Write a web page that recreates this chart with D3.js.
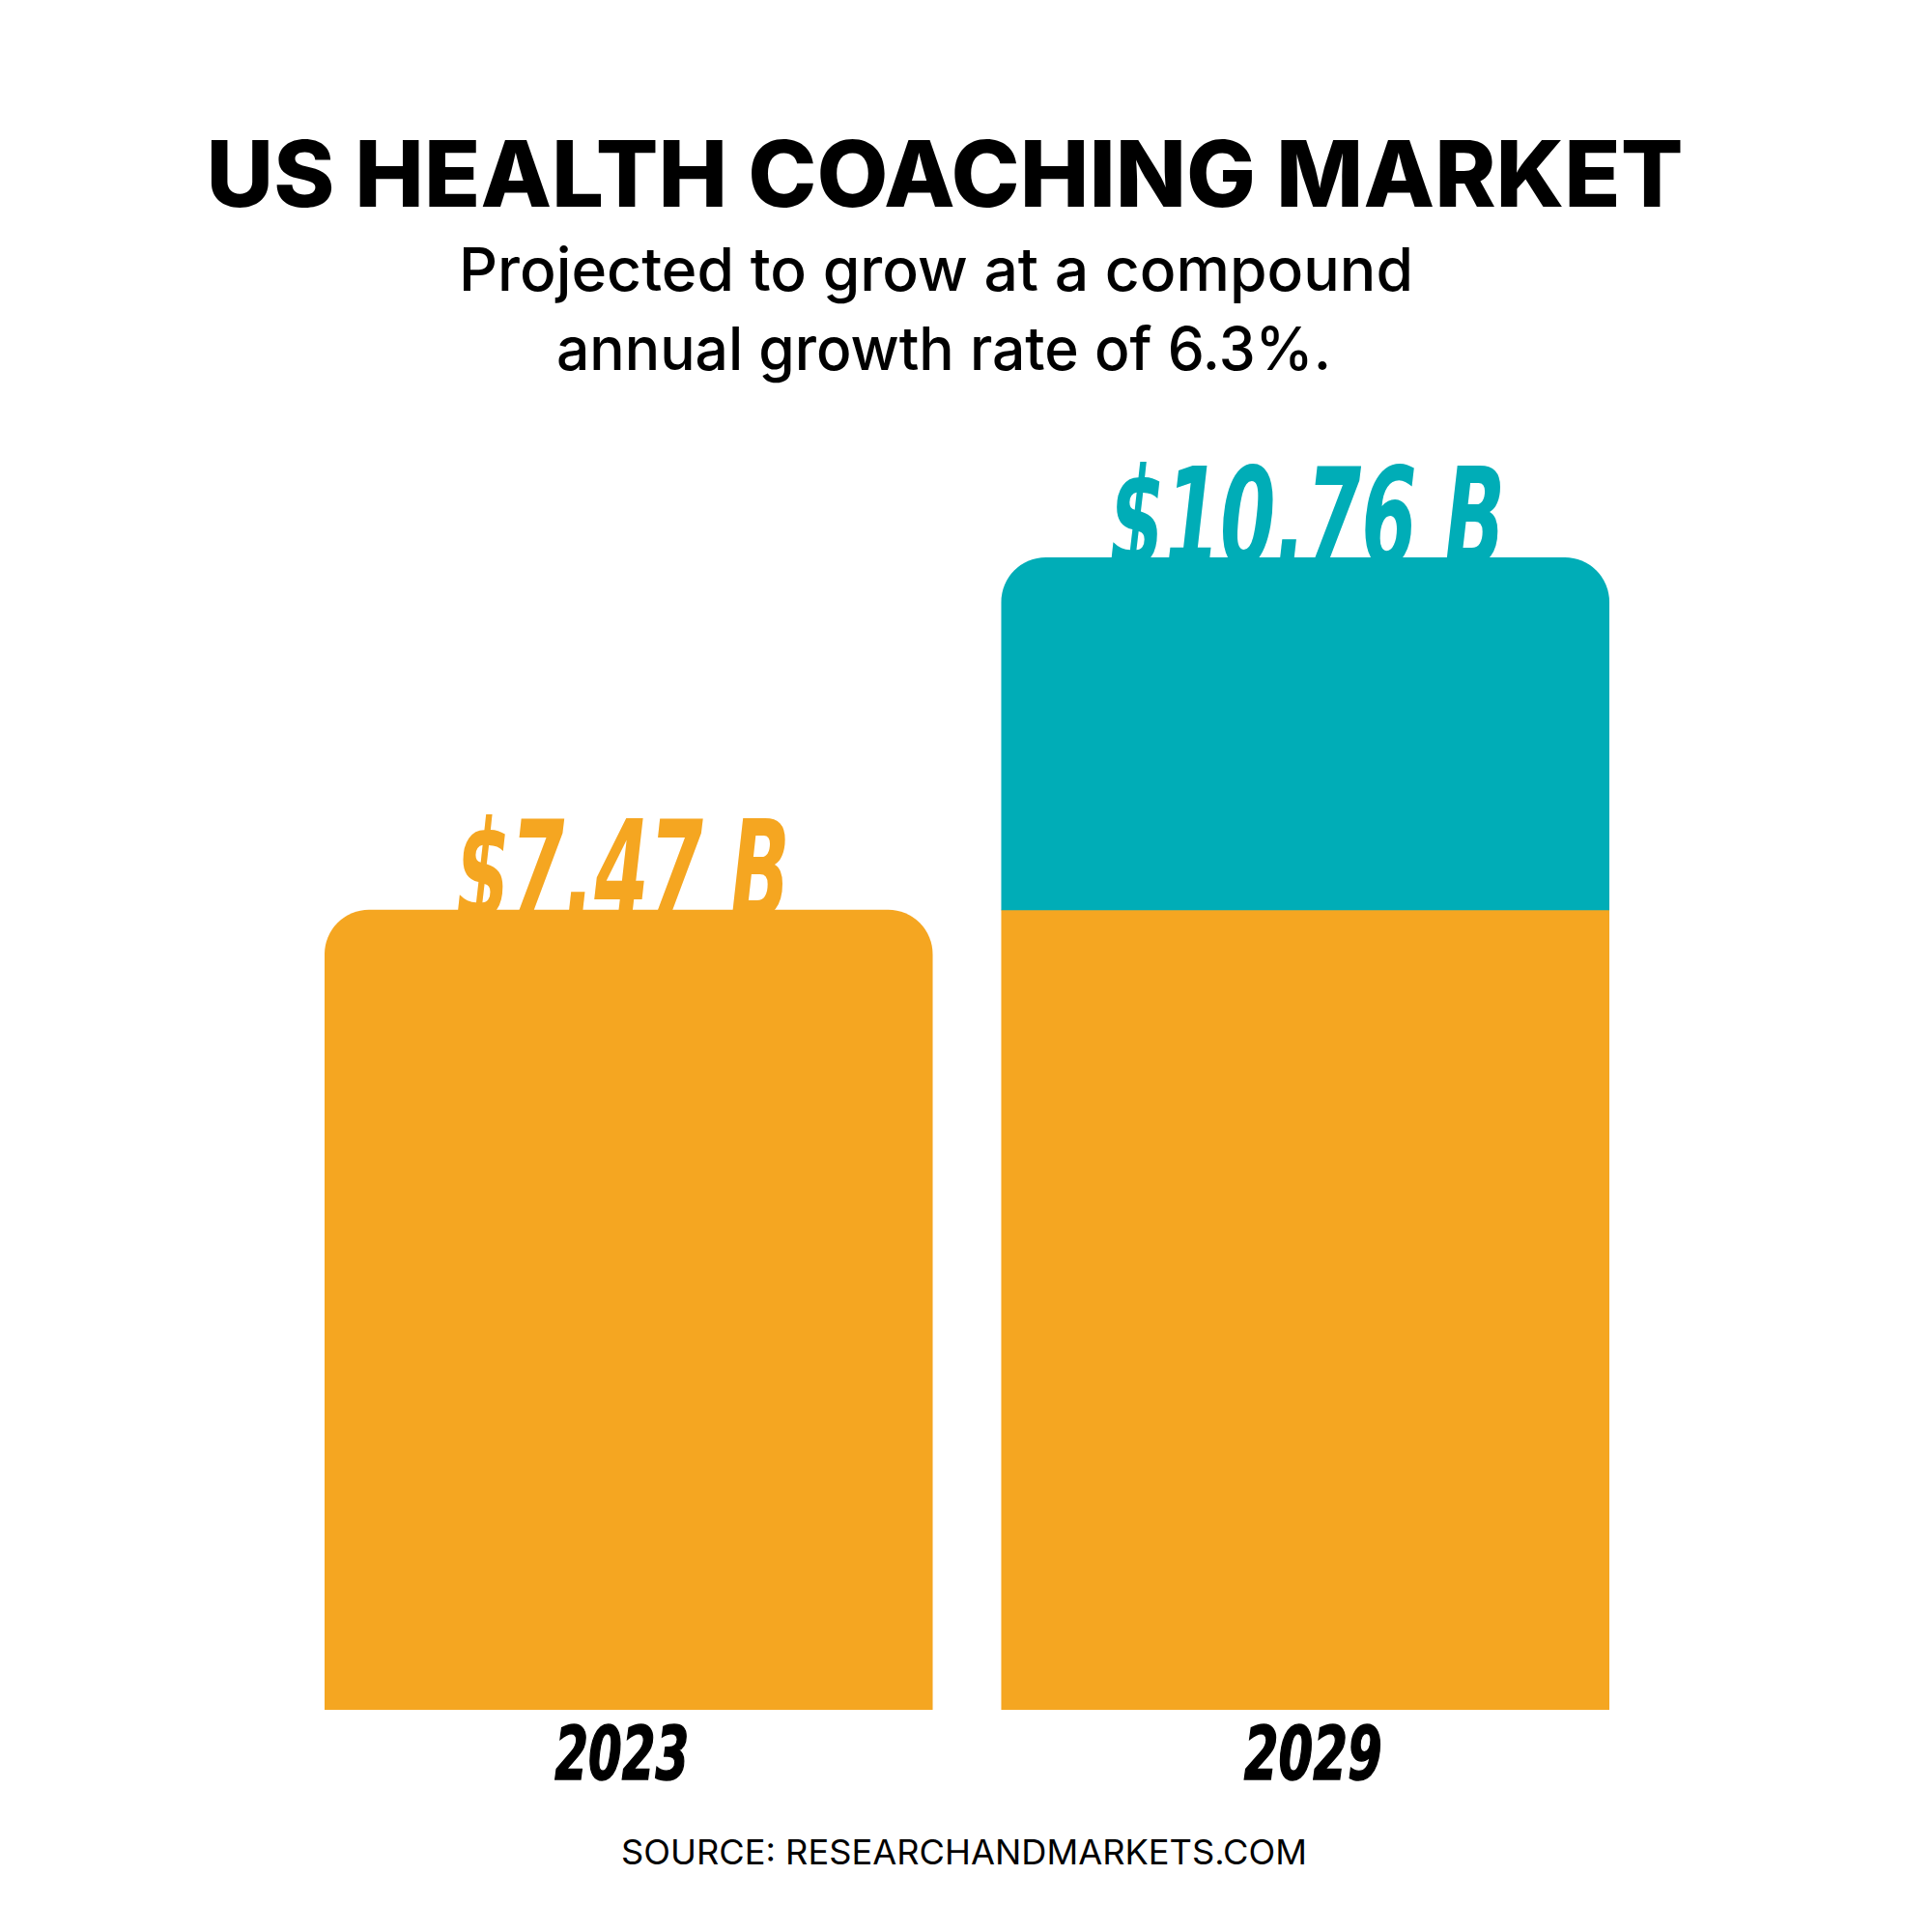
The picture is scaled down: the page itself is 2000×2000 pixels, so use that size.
<!DOCTYPE html>
<html>
<head>
<meta charset="utf-8">
<script src="https://cdn.jsdelivr.net/npm/d3@7"></script>
<style>
  html, body { margin: 0; padding: 0; background: #ffffff; }
  svg { display: block; }
</style>
</head>
<body>
<div id="chart"></div>
<script>
// ---- Data ----
const years = ["2023", "2029"];
const totals = [7.47, 10.76];          // market size, $ billions
const baseValues = [7.47, 7.47];       // 2023 level carried into each bar
const valueLabels = ["$7.47 B", "$10.76 B"];
const titleText = "US HEALTH COACHING MARKET";
const subtitleLines = ["Projected to grow at a compound", "annual growth rate of 6.3%."];
const sourceText = "SOURCE: RESEARCHANDMARKETS.COM";

// ---- Layout / style ----
const W = 2000, H = 2000;
const ORANGE = "#F5A621", TEAL = "#00ADB7";
const R = 46;

const svg = d3.select("#chart").append("svg")
  .attr("width", W).attr("height", H)
  .attr("viewBox", `0 0 ${W} ${H}`);

svg.append("rect").attr("width", W).attr("height", H).attr("fill", "#fff");

const x = d3.scaleBand().domain(years).range([336, 1666])
  .paddingInner(71 / 701).paddingOuter(0);
const y = d3.scaleLinear().domain([0, d3.max(totals)]).range([1770, 577]);

const condensed = "'Liberation Sans Narrow', 'DejaVu Sans Condensed', 'Arial Narrow', sans-serif";

// Title
svg.append("text")
  .attr("x", 978).attr("y", 214)
  .attr("text-anchor", "middle")
  .attr("font-family", "Inter, 'Noto Sans', sans-serif")
  .attr("font-weight", 800)
  .attr("font-size", 95)
  .attr("fill", "#000")
  .attr("textLength", 1529).attr("lengthAdjust", "spacingAndGlyphs")
  .text(titleText);

// Subtitle
const subMeta = [{ y: 301, w: 988, cx: 969 }, { y: 383, w: 802, cx: 977 }];
svg.selectAll("text.sub").data(subtitleLines).join("text")
  .attr("class", "sub")
  .attr("x", (d, i) => subMeta[i].cx).attr("y", (d, i) => subMeta[i].y)
  .attr("text-anchor", "middle")
  .attr("font-family", "Inter, 'Noto Sans', sans-serif")
  .attr("font-weight", 500)
  .attr("font-size", 62)
  .attr("fill", "#000")
  .attr("textLength", (d, i) => subMeta[i].w).attr("lengthAdjust", "spacingAndGlyphs")
  .text(d => d);

// Value labels (drawn before bars; bars overlap the bottom of the glyphs)
const labelW = [346, 410];
const labelShift = [-6, 2];
const labelColor = [ORANGE, TEAL];
svg.selectAll("text.val").data(years).join("text")
  .attr("class", "val")
  .attr("x", (d, i) => x(d) + x.bandwidth() / 2 - labelW[i] / 2 + labelShift[i])
  .attr("y", (d, i) => y(totals[i]) + 8)
  .attr("font-family", condensed)
  .attr("font-weight", 700)
  .attr("font-style", "italic")
  .attr("font-size", 140)
  .attr("fill", (d, i) => labelColor[i])
  .attr("textLength", (d, i) => labelW[i]).attr("lengthAdjust", "spacingAndGlyphs")
  .text((d, i) => valueLabels[i]);

// Path with rounded top corners
function topRounded(x0, x1, yTop, yBot, r) {
  const p = d3.path();
  p.moveTo(x0, yBot);
  p.lineTo(x0, yTop + r);
  p.arcTo(x0, yTop, x0 + r, yTop, r);
  p.lineTo(x1 - r, yTop);
  p.arcTo(x1, yTop, x1, yTop + r, r);
  p.lineTo(x1, yBot);
  p.closePath();
  return p.toString();
}

// Bars
years.forEach((yr, i) => {
  const x0 = x(yr), x1 = x(yr) + x.bandwidth();
  const inc = totals[i] - baseValues[i];
  if (inc > 0) {
    svg.append("rect")
      .attr("x", x0).attr("y", y(baseValues[i]))
      .attr("width", x.bandwidth()).attr("height", y(0) - y(baseValues[i]))
      .attr("fill", ORANGE);
    svg.append("path")
      .attr("d", topRounded(x0, x1, y(totals[i]), y(baseValues[i]) + 0.5, R))
      .attr("fill", TEAL);
  } else {
    svg.append("path")
      .attr("d", topRounded(x0, x1, y(totals[i]), y(0), R))
      .attr("fill", ORANGE);
  }
});

// Year labels
const yearW = [139, 143];
const yearShift = [-7, 8];
svg.selectAll("text.year").data(years).join("text")
  .attr("class", "year")
  .attr("x", (d, i) => x(d) + x.bandwidth() / 2 - yearW[i] / 2 + yearShift[i])
  .attr("y", 1842)
  .attr("font-family", condensed)
  .attr("font-weight", 700)
  .attr("font-style", "italic")
  .attr("font-size", 76)
  .attr("fill", "#000")
  .attr("stroke", "#000").attr("stroke-width", 1.5)
  .attr("textLength", (d, i) => yearW[i]).attr("lengthAdjust", "spacingAndGlyphs")
  .text(d => d);

// Source
svg.append("text")
  .attr("x", 998).attr("y", 1930)
  .attr("text-anchor", "middle")
  .attr("font-family", "Inter, 'Noto Sans', sans-serif")
  .attr("font-weight", 400)
  .attr("font-size", 35)
  .attr("fill", "#000")
  .attr("textLength", 710).attr("lengthAdjust", "spacingAndGlyphs")
  .text(sourceText);
</script>
</body>
</html>
